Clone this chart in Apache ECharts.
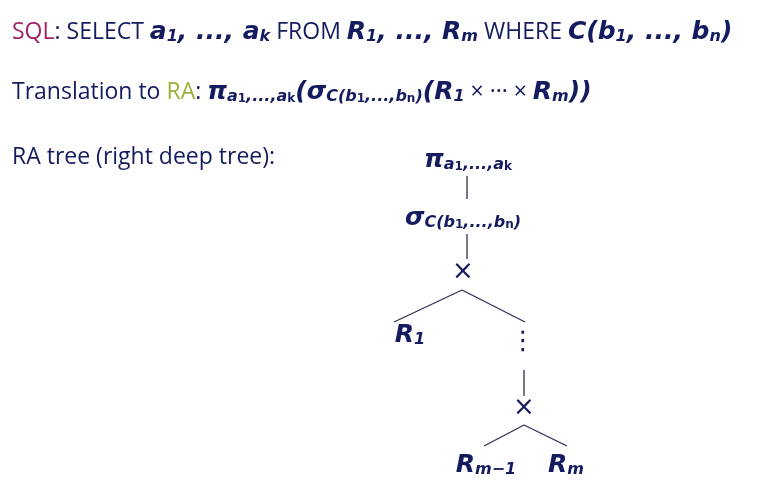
<!DOCTYPE html>
<html lang="en">
<head>
<meta charset="UTF-8">
<title>SQL to RA</title>
<style>html,body{margin:0;background:#fff}#main{width:763px;height:497px}</style>
</head>
<body>
<div id="main"></div>
<script src="https://cdn.jsdelivr.net/npm/echarts@6/dist/echarts.min.js"></script>
<script>
'use strict';
// text lines: left-aligned rich text
let lineText = [
    '{sql|SQL}{t|: SELECT }{m|a}{s|1}{m|, ..., a}{s|k}{t| FROM }{m|R}{s|1}{m|, ..., R}{s|m}{t| WHERE }{m|C(b}{s|1}{m|, ..., b}{s|n}{m|)}',
    '{t|Translation to }{ra|RA}{t|: }{m|π}{s|a}{ss|1}{s|,...,a}{ss|k}{m|(σ}{s|C(b}{ss|1}{s|,...,b}{ss|n}{s|)}{m|(R}{s|1}{t| × ··· × }{m|R}{s|m}{m|))}',
    '{t|RA tree (right deep tree):}'
];
let lineX = [12, 12, 12];
let lineY = [32, 92, 157];

// tree nodes
let nodeText = [
    '{m|π}{s|a}{ss|1}{s|,...,a}{ss|k}',
    '{m|σ}{s|C(b}{ss|1}{s|,...,b}{ss|n}{s|)}',
    '{x|×}',
    '{m|R}{s|1}',
    '{x|⋮}',
    '{x|×}',
    '{m|R}{s|m−1}',
    '{m|R}{s|m}'
];
let nodeX = [468, 463, 463, 410, 523, 524, 486, 566];
let nodeY = [160, 218, 272, 335, 342, 408, 465, 465];

// tree edges [x1, y1, x2, y2]
let edges = [
    [467, 176, 467, 199],
    [467, 234, 467, 259],
    [462, 290, 394, 322],
    [462, 290, 525, 322],
    [524, 370, 524, 396],
    [524, 425, 484, 446],
    [524, 425, 567, 446]
];

const navy = '#141b5e';
const base = {color: navy, opacity: 1, textBorderWidth: 0};
const rich = {
    t: Object.assign({fontSize: 23, fontFamily: 'Open Sans'}, base),
    x: Object.assign({fontSize: 26, fontFamily: 'DejaVu Sans'}, base),
    sql: {fontSize: 23, color: '#a0246a', fontFamily: 'Open Sans'},
    ra: {fontSize: 23, color: '#9fb03a', fontFamily: 'Open Sans'},
    m: Object.assign({fontSize: 25, fontFamily: 'DejaVu Sans', fontWeight: 'bold', fontStyle: 'italic'}, base),
    s: Object.assign({fontSize: 16, fontFamily: 'DejaVu Sans', fontWeight: 'bold', fontStyle: 'italic', verticalAlign: 'bottom', padding: [10, 0, 0, 0]}, base),
    ss: Object.assign({fontSize: 12, fontFamily: 'DejaVu Sans', fontWeight: 'bold', verticalAlign: 'bottom', padding: [14, 0, 0, 0]}, base)
};

let textData = lineText.map((s, i) => ({value: [lineX[i], lineY[i]], label: {formatter: s}}));
let nodeData = nodeText.map((s, i) => ({value: [nodeX[i], nodeY[i]], label: {formatter: s}}));
let edgeSeries = edges.map(e => ({
    type: 'line', data: [[e[0], e[1]], [e[2], e[3]]], symbol: 'none', silent: true,
    lineStyle: {color: '#2a2f50', width: 1.3}
}));

let chart = echarts.init(document.getElementById('main'));
chart.setOption({
    animation: false,
    grid: {left: 0, right: 0, top: 0, bottom: 0},
    xAxis: {type: 'value', min: 0, max: 763, show: false},
    yAxis: {type: 'value', min: 0, max: 497, inverse: true, show: false},
    series: edgeSeries.concat([
        {type: 'scatter', symbolSize: 0, data: textData, itemStyle: {opacity: 1},
         label: {show: true, position: 'inside', align: 'left', verticalAlign: 'middle', color: navy, rich: rich}},
        {type: 'scatter', symbolSize: 0, data: nodeData, itemStyle: {opacity: 1},
         label: {show: true, position: 'inside', align: 'center', verticalAlign: 'middle', color: navy, rich: rich}}
    ])
});
</script>
</body>
</html>
